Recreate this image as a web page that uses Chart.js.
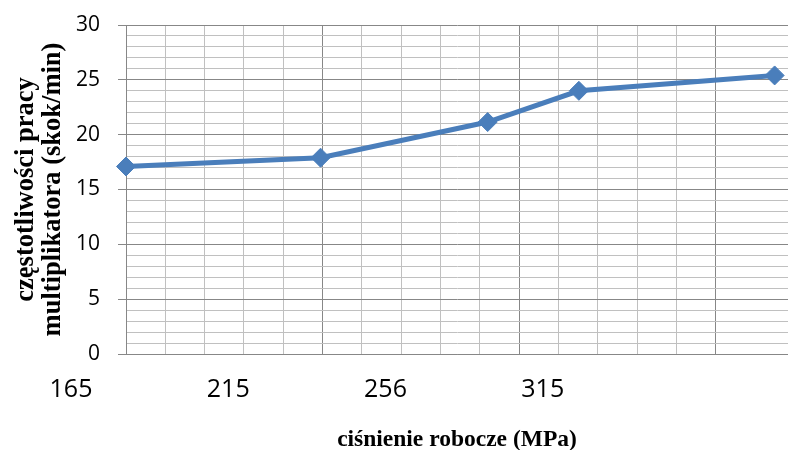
<!DOCTYPE html>
<html>
<head>
<meta charset="utf-8">
<script src="https://cdn.jsdelivr.net/npm/chart.js@4/dist/chart.umd.min.js"></script>
<style>
  html, body { margin: 0; padding: 0; background: #ffffff; }
  #wrap { width: 788px; height: 450px; overflow: hidden; }
</style>
</head>
<body>
<div id="wrap"><canvas id="c" width="788" height="450"></canvas></div>
<script>
// Positions of the measurements along the pressure axis (in grid divisions)
const pressurePos = [0, 4.95, 9.2, 11.52, 16.5];
// Stroke rate of the multiplier (strokes per minute)
const strokeRate = [17.1, 17.9, 21.15, 24.0, 25.4];
// Pressure tick labels and the grid divisions they sit at
const pressureTickLabels = ['165', '215', '256', '315'];
const pressureTickPos = [0, 4, 8, 12];

const xMax = 16.84;
const majorColor = '#878787';
const minorColor = '#c0c0c0';
const lineColor = '#4a7ebb';

const points = pressurePos.map((x, i) => ({ x: x, y: strokeRate[i] }));

new Chart(document.getElementById('c'), {
  type: 'line',
  data: {
    datasets: [{
      data: points,
      borderColor: lineColor,
      backgroundColor: lineColor,
      borderWidth: 5,
      pointStyle: 'rectRot',
      pointRadius: 9.5,
      pointBorderWidth: 1,
      pointBackgroundColor: lineColor,
      pointBorderColor: lineColor,
      tension: 0,
      clip: false
    }]
  },
  options: {
    responsive: false,
    animation: false,
    events: [],
    layout: { autoPadding: false, padding: { top: 25, right: 0, bottom: 0, left: 0 } },
    plugins: { legend: { display: false }, tooltip: { enabled: false } },
    scales: {
      x: {
        type: 'linear',
        min: 0,
        max: xMax,
        afterBuildTicks: (scale) => {
          scale.ticks = scale.ticks.filter(t => Math.abs(t.value - Math.round(t.value)) < 1e-6);
        },
        afterFit: (scale) => { scale.height = 96; },
        grid: {
          drawTicks: false,
          lineWidth: 1,
          color: (ctx) => (ctx.tick && Math.round(ctx.tick.value) % 5 === 0) ? majorColor : minorColor
        },
        border: { color: majorColor, width: 1 },
        ticks: {
          stepSize: 1,
          autoSkip: false,
          maxRotation: 0,
          minRotation: 0,
          padding: 21,
          labelOffset: -55,
          color: '#000000',
          font: { family: 'Open Sans', size: 25 },
          callback: (value) => {
            const k = pressureTickPos.indexOf(Math.round(value));
            return k >= 0 ? pressureTickLabels[k] : '';
          }
        },
        title: {
          display: true,
          text: 'ciśnienie robocze (MPa)',
          color: '#000000',
          font: { family: 'Liberation Serif', size: 23.5, weight: 'bold', lineHeight: 0.85 },
          padding: { top: 0, bottom: 0 }
        }
      },
      y: {
        min: 0,
        max: 30,
        afterFit: (scale) => {
          scale.width = 126;
          scale.paddingTop = 0;
          scale.paddingBottom = 0;
        },
        grid: {
          lineWidth: 1,
          tickLength: 8,
          color: (ctx) => (ctx.tick && ctx.tick.value % 5 === 0) ? majorColor : minorColor,
          tickColor: (ctx) => (ctx.tick && ctx.tick.value % 5 === 0) ? majorColor : 'rgba(0,0,0,0)'
        },
        border: { color: majorColor, width: 1 },
        ticks: {
          stepSize: 1,
          maxTicksLimit: 100,
          autoSkip: false,
          padding: 18,
          color: '#000000',
          font: { family: 'Open Sans', size: 21 },
          callback: (value) => (value % 5 === 0 ? String(value) : '')
        },
        title: {
          display: true,
          text: ['częstotliwości pracy', 'multiplikatora (skok/min)'],
          color: '#000000',
          font: { family: 'Liberation Serif', size: 26.5, weight: 'bold', lineHeight: 1.04 },
          padding: { top: 12, bottom: 0 }
        }
      }
    }
  }
});
</script>
</body>
</html>
